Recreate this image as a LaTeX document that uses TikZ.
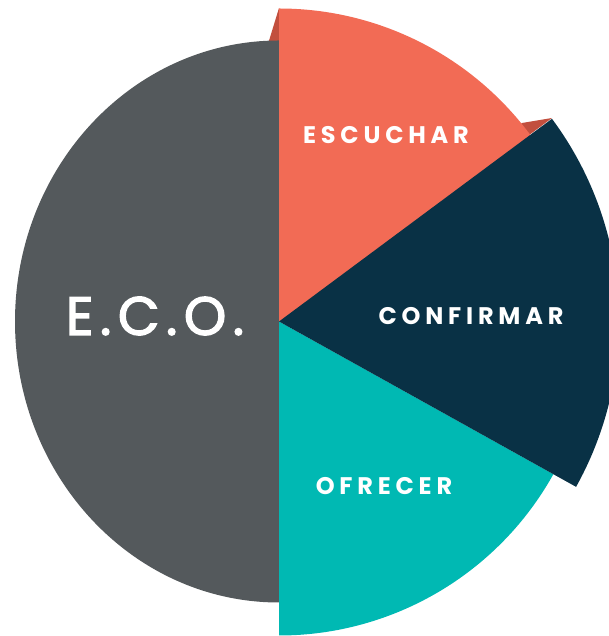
\documentclass[tikz,border=0pt]{standalone}
\usepackage{fontspec}
\newfontfamily\popA{Poppins}[LetterSpace=12,FakeBold=2.5]
\newfontfamily\popB{Poppins}[LetterSpace=20]
\definecolor{ecogray}{HTML}{54595C}
\definecolor{ecoorange}{HTML}{F26B55}
\definecolor{econavy}{HTML}{093145}
\definecolor{ecoteal}{HTML}{00B9B3}
\definecolor{ecoshadow}{HTML}{C24F3E}
\begin{document}
\begin{tikzpicture}[x=1pt,y=1pt,
  lab/.style={text=white,inner sep=0pt,font=\popB\bfseries\fontsize{24}{24}\selectfont},
  big/.style={text=white,inner sep=0pt,font=\popA\fontsize{54}{54}\selectfont}]
\useasboundingbox (0,0) rectangle (608,636);
\coordinate (C) at (279,314.5);
% shadows
\fill[ecoshadow] (C) -- (279,628) -- (268,592) -- cycle;
\fill[ecoshadow] (C) -- (552,518) -- (522,513) -- cycle;
% gray half
\fill[ecogray] (279,595.5) arc[start angle=90,end angle=270,x radius=264,y radius=281] -- cycle;
% orange
\fill[ecoorange] (C) -- ++(30:313) arc[start angle=30,end angle=90,radius=313] -- cycle;
% teal
\fill[ecoteal] (C) -- ++(-29.1:314) arc[start angle=-29.1,end angle=-90,radius=314] -- cycle;
% navy
\fill[econavy] (C) -- ++(36.6:340) arc[start angle=36.6,end angle=-29.1,radius=340] -- cycle;
% labels
\node[big] (eco) at (155,320) {E.C.O.};
\node[lab] (esc) at (386,501) {ESCUCHAR};
\node[lab] (con) at (471,320) {CONFIRMAR};
\node[lab] (ofr) at (384,150) {OFRECER};
\end{tikzpicture}
\end{document}
